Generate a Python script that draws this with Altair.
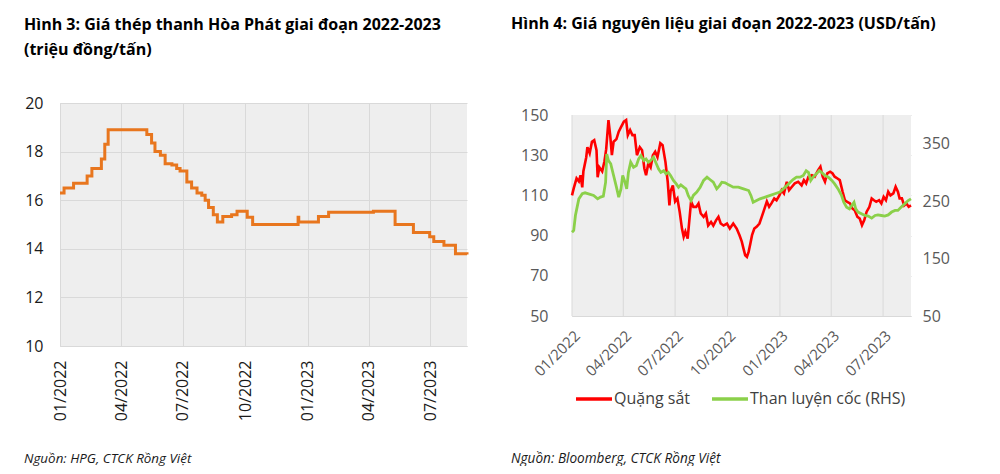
import altair as alt
import pandas as pd

FONT = "Open Sans"

# ---- Left panel: Hoa Phat steel bar price (million VND/ton) ----
steel_dates = ["2022-01-01", "2022-01-07", "2022-01-21", "2022-02-10", "2022-02-17",
               "2022-03-03", "2022-03-08", "2022-03-13", "2022-05-09", "2022-05-16",
               "2022-05-21", "2022-05-29", "2022-06-05", "2022-06-15", "2022-06-22",
               "2022-06-27", "2022-07-07", "2022-07-14", "2022-07-22", "2022-07-29",
               "2022-08-03", "2022-08-08", "2022-08-15", "2022-08-21", "2022-08-29",
               "2022-09-11", "2022-09-19", "2022-10-04", "2022-10-12", "2022-12-18",
               "2022-12-19", "2023-01-17", "2023-02-01", "2023-04-08", "2023-05-10",
               "2023-06-06", "2023-06-30", "2023-07-06", "2023-07-21", "2023-08-07",
               "2023-08-24"]
steel_values = [16.3, 16.5, 16.7, 17.0, 17.3,
                17.7, 18.3, 18.9, 18.7, 18.35,
                18.0, 17.85, 17.5, 17.45, 17.3,
                17.2, 16.75, 16.5, 16.3, 16.2,
                16.0, 15.7, 15.4, 15.1, 15.33,
                15.4, 15.55, 15.3, 15.0, 15.3,
                15.1, 15.33, 15.5, 15.55, 15.0,
                14.67, 14.5, 14.3, 14.15, 13.8,
                13.77]

# ---- Right panel: raw materials (USD/ton) ; day offsets from 2022-01-01 ----
ore_days = [0, 3, 8, 12, 15, 18, 20, 25, 27, 31, 35, 39, 43, 45, 48, 53, 57, 60, 64, 67,
            70, 73, 78, 82, 86, 91, 95, 98, 102, 106, 110, 114, 119, 123, 127, 130, 134, 138,
            142, 146, 150, 155, 159, 164, 168, 171, 173, 177, 181, 185, 189, 193, 196, 199,
            203, 206, 209, 213, 218, 222, 226, 231, 235, 239, 244, 248, 253, 257, 261, 266,
            272, 277, 283, 289, 294, 298, 301, 304, 307, 310, 313, 316, 320, 324, 329, 333,
            337, 342, 346, 350, 355, 359, 364, 368, 372, 377, 381, 386, 391, 397, 403, 407,
            411, 415, 421, 426, 432, 436, 440, 444, 448, 453, 457, 461, 466, 470, 475, 479,
            483, 488, 492, 496, 501, 505, 509, 513, 517, 522, 526, 530, 534, 539, 543, 547,
            551, 555, 559, 564, 568, 572, 575, 579, 583, 587, 591, 595]
ore_values = [110, 113.5, 118.5, 117, 120, 114, 122, 129, 134, 131, 136.7, 137.5, 132.5, 119,
              124, 122, 127, 133, 147.5, 140, 130, 136.7, 138, 141.7, 144, 146.7, 147.5, 140,
              142.5, 140, 140, 130, 134, 132.5, 123.4, 120, 126, 124, 130, 131.7, 129, 136,
              135, 126.7, 116.8, 105, 112, 115, 107, 108.5, 101.8, 93.5, 89.4, 92, 88.5,
              97.7, 107, 104.3, 104.3, 106, 101, 99.3, 101, 95, 96.8, 95, 97.7, 99.3, 96, 95,
              96, 93.5, 96, 93.5, 90.2, 87, 83.5, 80.2, 79.4, 81.9, 86, 90.2, 93.5, 94.4, 96,
              99.3, 102.7, 107, 104.3, 106, 108.5, 107.6, 110, 112.6, 111, 116.8, 112.6,
              114.3, 116, 116.8, 115, 117.6, 116, 119.3, 120, 119.3, 122.6, 124.3, 119.3,
              116.8, 121, 121.8, 121, 119.3, 118.4, 117.6, 111.8, 107.6, 106.8, 106, 103.5,
              102.7, 99.3, 98.5, 95.2, 97.7, 101.8, 104.3, 108.5, 107.6, 106.8, 107.6, 106,
              109.3, 107.6, 111.8, 110, 111, 114.3, 111.8, 108.5, 108.5, 105, 106, 104.3, 105]

coal_days = [0, 3, 6, 9, 12, 18, 23, 29, 38, 45, 50, 55, 59, 61, 64, 68, 73, 78, 82, 86, 89,
             93, 96, 99, 103, 108, 113, 117, 121, 126, 130, 134, 138, 143, 148, 152, 156, 161,
             165, 169, 173, 178, 183, 187, 191, 196, 200, 204, 209, 213, 219, 225, 231, 237,
             242, 248, 254, 259, 263, 269, 275, 283, 292, 301, 310, 314, 318, 324, 330, 339,
             348, 356, 365, 371, 377, 383, 388, 394, 400, 406, 411, 415, 419, 423, 429, 434,
             438, 444, 450, 456, 461, 467, 473, 477, 482, 487, 491, 495, 498, 502, 508, 514,
             520, 526, 532, 537, 543, 549, 555, 561, 567, 572, 578, 584, 590, 595]
coal_values = [196, 199, 225, 239.6, 254, 262.8, 264.5, 262.8, 260, 254, 257, 258.7, 283, 332,
               320.7, 315, 294.6, 274.3, 257, 271.4, 294.6, 283, 271.4, 300, 317.8, 309, 312,
               323.6, 329.4, 320.7, 323.6, 317.8, 320.7, 326.5, 315, 306, 300, 303, 297.5,
               300, 294.6, 286, 280, 274.3, 278.4, 274.3, 271.4, 260, 251, 260, 265.7, 274.3,
               286, 291.7, 287.7, 283, 271.4, 277, 283, 282, 278.4, 274.3, 274.3, 271.4,
               268.5, 260, 248, 251, 254, 257, 260, 262.8, 265.7, 271.4, 277, 283, 287.7,
               291.7, 291.7, 294.6, 303, 300, 286, 291.7, 297.5, 303, 300, 294.6, 291.7, 286,
               280, 271.4, 260, 248, 239.6, 236.7, 242.5, 248, 236.7, 231, 228, 225, 224,
               220.4, 225, 226, 225, 224, 226, 231, 233.8, 233.8, 239.6, 245.4, 251, 254]

series_names = ["Quặng sắt", "Than luyện cốc (RHS)"]
series_colors = ["#ff0000", "#8bd04a"]

tick_dates = [(2022, 1), (2022, 4), (2022, 7), (2022, 10), (2023, 1), (2023, 4), (2023, 7)]
right_end = "2023-08-19"
ore_axis_min, ore_axis_max = 50, 150

base = pd.Timestamp("2022-01-01")
steel_df = pd.DataFrame({"date": steel_dates, "value": steel_values})
ore_df = pd.DataFrame({
    "date": [(base + pd.Timedelta(days=d)).strftime("%Y-%m-%d") for d in ore_days],
    "value": ore_values, "series": series_names[0]})
coal_df = pd.DataFrame({
    "date": [(base + pd.Timedelta(days=d)).strftime("%Y-%m-%d") for d in coal_days],
    "value": coal_values, "series": series_names[1]})
tick_df = pd.DataFrame({
    "date": [f"{y}-{m:02d}-01" for y, m in tick_dates],
    "value": ore_axis_max, "value2": ore_axis_min})
bg_df = pd.DataFrame({"date": ["2022-01-01"], "date2": [right_end],
                      "value": [ore_axis_max], "value2": [ore_axis_min]})

tick_vals = [alt.DateTime(year=y, month=m, date=1, utc=True) for y, m in tick_dates]
grid_c = "#d9d9d9"
fill_c = "#eeeeee"


def x_enc(end_day, angle, color, pad, size, grid):
    return alt.X(
        "date:T",
        title=None,
        scale=alt.Scale(type="utc", domain=[alt.DateTime(year=2022, month=1, date=1, utc=True),
                                            alt.DateTime(year=2023, month=8, date=end_day, utc=True)]),
        axis=alt.Axis(values=tick_vals, labelExpr="utcFormat(datum.value, '%m/%Y')",
                      labelAngle=angle, grid=grid, gridColor=grid_c, domainColor=grid_c,
                      ticks=False, labelColor=color, labelFontSize=size, labelFont=FONT,
                      labelPadding=pad),
    )


# ---------- Left chart ----------
left_line = alt.Chart(steel_df).mark_line(
    interpolate="step-after", color="#e8761e", strokeWidth=3
).encode(
    x=x_enc(24, 270, "#1a1a1a", 14, 16, True),
    y=alt.Y("value:Q", title=None,
            scale=alt.Scale(domain=[10, 20]),
            axis=alt.Axis(values=[10, 12, 14, 16, 18, 20], grid=True, gridColor=grid_c,
                          domainColor=grid_c, ticks=False, labelColor="#1a1a1a",
                          labelFontSize=16, labelFont=FONT, labelPadding=17)),
)
left_note = alt.Chart(pd.DataFrame({"t": ["Nguồn: HPG, CTCK Rồng Việt"]})).mark_text(
    align="left", baseline="alphabetic", fontStyle="italic", fontSize=13.4, font=FONT,
    color="#1a1a1a"
).encode(x=alt.value(-36), y=alt.value(360), text="t:N")

left = alt.layer(left_line, left_note).properties(
    width=407, height=243,
    view=alt.ViewBackground(fill=fill_c, strokeWidth=0),
    title=alt.TitleParams(
        text=["Hình 3: Giá thép thanh Hòa Phát giai đoạn 2022-2023", "(triệu đồng/tấn)"],
        anchor="start", frame="group", dx=-36, offset=37, fontSize=16, font=FONT,
        fontWeight="bold", lineHeight=25, color="#000000"),
)

# ---------- Right chart ----------
R_H = 213      # group height (plot area is the lower 201 px)
R_TOP = 12

color_enc = alt.Color("series:N", title=None,
                      scale=alt.Scale(domain=series_names, range=series_colors),
                      legend=alt.Legend(orient="none", legendX=2, legendY=276,
                                        direction="horizontal", symbolType="stroke",
                                        symbolSize=1296, symbolStrokeWidth=3.5,
                                        labelFontSize=16, labelFont=FONT,
                                        labelColor="#404040", columnPadding=14,
                                        labelOffset=0))
x_r = x_enc(19, 315, "#595959", 12, 15, False)
y_ore = alt.Y("value:Q", title=None,
              scale=alt.Scale(domain=[ore_axis_min, ore_axis_max], range=[R_H, R_TOP]),
              axis=alt.Axis(values=[50, 70, 90, 110, 130, 150], grid=True, gridColor=grid_c,
                            domainColor=grid_c, ticks=False, labelColor="#595959",
                            labelFontSize=16, labelFont=FONT, labelPadding=24))

bg_rect = alt.Chart(bg_df).mark_rect(color=fill_c).encode(
    x=x_r, x2="date2:T", y=y_ore, y2="value2:Q")
vgrid = alt.Chart(tick_df).mark_rule(color=grid_c, strokeWidth=1).encode(
    x=x_r, y=y_ore, y2="value2:Q")
ore_line = alt.Chart(ore_df).mark_line(strokeWidth=2.6).encode(
    x=x_r, y=y_ore, color=color_enc)
ore_layer = alt.layer(bg_rect, vgrid, ore_line)

coal_line = alt.Chart(coal_df).mark_line(strokeWidth=2.8).encode(
    x=x_r,
    y=alt.Y("value:Q", title=None, scale=alt.Scale(domain=[50, 400], range=[R_H, R_TOP]),
            axis=alt.Axis(orient="right", values=[50, 150, 250, 350], grid=False,
                          domain=False, ticks=False, labelColor="#595959",
                          labelFontSize=16, labelFont=FONT, labelPadding=11)),
    color=color_enc,
)
right_note = alt.Chart(pd.DataFrame({"t": ["Nguồn: Bloomberg, CTCK Rồng Việt"]})).mark_text(
    align="left", baseline="alphabetic", fontStyle="italic", fontSize=13.6, font=FONT,
    color="#1a1a1a"
).encode(x=alt.value(-61), y=alt.value(360), text="t:N")

right = alt.layer(ore_layer, coal_line, right_note).resolve_scale(
    y="independent"
).properties(
    width=339, height=R_H,
    view=alt.ViewBackground(fill="transparent", strokeWidth=0),
    title=alt.TitleParams(
        text="Hình 4: Giá nguyên liệu giai đoạn 2022-2023 (USD/tấn)",
        anchor="start", frame="group", dx=-61, offset=71, fontSize=16, font=FONT,
        fontWeight="bold", color="#000000"),
)

chart = alt.concat(left, right, columns=2, spacing=38, align="none").resolve_scale(
    color="independent"
).resolve_legend(
    color="independent"
).properties(
    padding={"left": 16, "top": 8, "right": 0, "bottom": 0},
    background="white",
).configure_view(
    strokeWidth=0
)

chart.save("out.html", embed_options={"renderer": "svg", "actions": False})
